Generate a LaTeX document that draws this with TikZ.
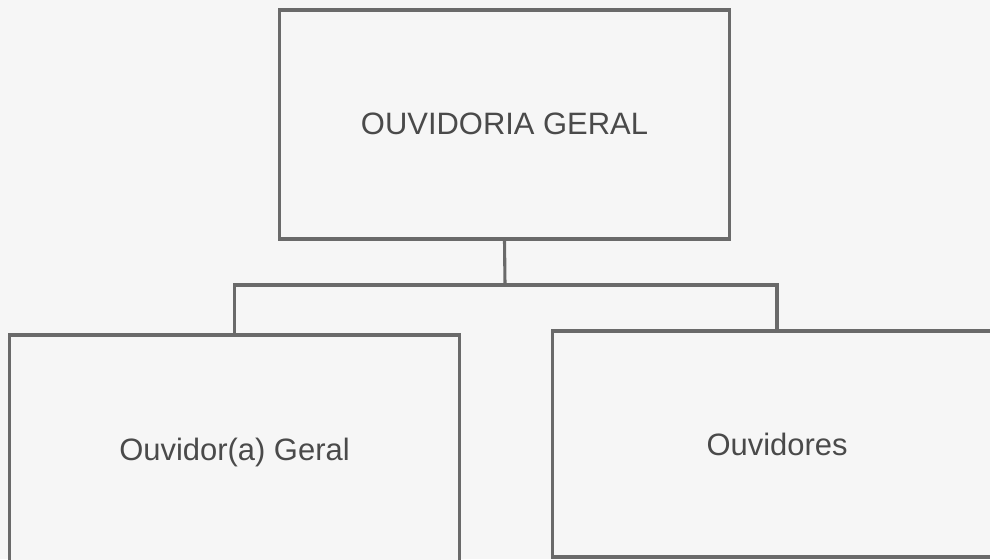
\documentclass[tikz,border=0pt]{standalone}
\usepackage{fontspec}
\setmainfont{Liberation Sans}
\definecolor{scanbg}{HTML}{F6F6F6}
\definecolor{scanline}{HTML}{6A6A6A}
\definecolor{scantext}{HTML}{4A4A4A}

\begin{document}
\begin{tikzpicture}[x=0.025cm,y=-0.025cm,
    orgbox/.style={draw=scanline,line width=2.2pt,fill=scanbg,text=scantext,
      inner sep=0pt,font=\fontsize{22}{26}\selectfont},
    link/.style={draw=scanline,line width=2.2pt}]
    \fill[scanbg] (0,0) rectangle (990,559);
    \useasboundingbox (0,0) rectangle (990,559);
    \clip (0,0) rectangle (990,559);
    % top and the two lower boxes
    \node[orgbox,minimum width=11.225cm,minimum height=5.725cm] (geral) at (504.5,124.5) {\raisebox{0.06cm}{OUVIDORIA GERAL}};
    \node[orgbox,minimum width=11.225cm,minimum height=5.875cm] (ouvgeral) at (234.5,452.5) {\raisebox{0.14cm}{Ouvidor(a) Geral}};
    \node[orgbox,minimum width=11.2cm,minimum height=5.65cm] (ouvidores) at (777,444) {Ouvidores};
    % connectors
    \coordinate (bus) at (505,285);
    \draw[link] (geral.south) -- (bus);
    \draw[link] (ouvgeral.north) |- (bus) -| (ouvidores.north);
\end{tikzpicture}
\end{document}
